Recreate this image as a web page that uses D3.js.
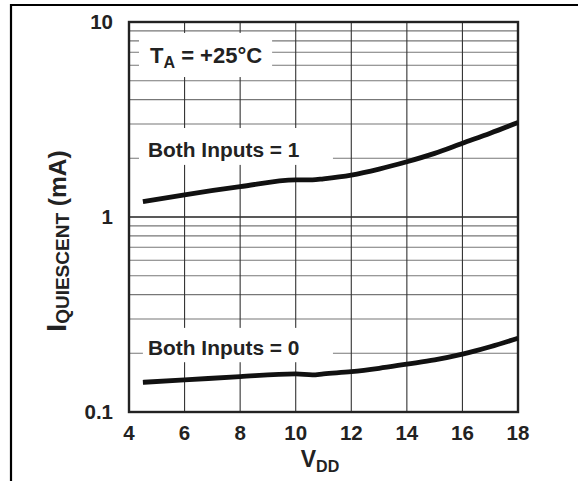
<!DOCTYPE html>
<html><head><meta charset="utf-8">
<script src="https://cdn.jsdelivr.net/npm/d3@7"></script>
<style>
html,body{margin:0;padding:0;background:#fff;}
svg{display:block;font-family:"Liberation Sans",Arial,Helvetica,sans-serif;font-weight:bold;}
</style></head>
<body><svg id="c" width="578" height="481"></svg>
<script>
const vdd = [4.5, 6, 8, 10, 10.6, 11, 12, 13, 14, 15, 16, 17, 18];
const iBoth1 = [1.198, 1.30, 1.43, 1.55, 1.55, 1.57, 1.64, 1.76, 1.92, 2.12, 2.39, 2.69, 3.05];
const iBoth0 = [0.142, 0.146, 0.152, 0.1567, 0.155, 0.157, 0.161, 0.1675, 0.176, 0.185, 0.198, 0.216, 0.239];
const xTicks = [4, 6, 8, 10, 12, 14, 16, 18];
const yTickLabels = ["0.1", "1", "10"];
const yTickValues = [0.1, 1, 10];

const svg = d3.select("#c");
const L = 129, R = 518, T = 22, B = 412;
const x = d3.scaleLinear().domain([4, 18]).range([L, R]);
const y = d3.scaleLog().domain([0.1, 10]).range([B, T]);

// outer border
svg.append("line").attr("x1", 10).attr("x2", 578).attr("y1", 5).attr("y2", 5).attr("stroke", "#000").attr("stroke-width", 2.2);
svg.append("line").attr("x1", 11).attr("x2", 11).attr("y1", 4).attr("y2", 481).attr("stroke", "#000").attr("stroke-width", 2.2);

// grid
const minor = [];
[0.1, 1].forEach(d => { for (let k = 2; k <= 9; k++) minor.push(d * k); });
svg.append("g").selectAll("line").data(minor).join("line")
  .attr("x1", L).attr("x2", R).attr("y1", d => y(d)).attr("y2", d => y(d))
  .attr("stroke", "#777").attr("stroke-width", 1.1);
svg.append("line").attr("x1", L).attr("x2", R).attr("y1", y(1)).attr("y2", y(1)).attr("stroke", "#222").attr("stroke-width", 1.6);
svg.append("g").selectAll("line").data(xTicks.slice(1, -1)).join("line")
  .attr("x1", d => x(d)).attr("x2", d => x(d)).attr("y1", T).attr("y2", B)
  .attr("stroke", "#333").attr("stroke-width", 1.1);

// frame
svg.append("rect").attr("x", L).attr("y", T).attr("width", R - L).attr("height", B - T)
  .attr("fill", "none").attr("stroke", "#222").attr("stroke-width", 2.4);

// label boxes
function box(x0, x1, y0, y1) {
  svg.append("rect").attr("x", x(x0)).attr("y", y(y0)).attr("width", x(x1) - x(x0)).attr("height", y(y1) - y(y0)).attr("fill", "#fff");
}
box(4.36, 9.15, 8.79, 5.22);   // T_A
box(4.36, 11.34, 2.86, 1.85);  // Both = 1
box(4.5, 11.34, 0.27, 0.18);   // Both = 0

const lbl = svg.append("g").attr("fill", "#222");
const ta = lbl.append("text").attr("x", 150).attr("y", 63).attr("font-size", 22);
ta.append("tspan").text("T");
ta.append("tspan").attr("font-size", 16).attr("dy", 5).text("A");
ta.append("tspan").attr("dy", -5).text(" = +25°C");
lbl.append("text").attr("x", 148).attr("y", 157).attr("font-size", 20.9).text("Both Inputs = 1");
lbl.append("text").attr("x", 148).attr("y", 355).attr("font-size", 20.9).text("Both Inputs = 0");

// curves
const line = d3.line().x(d => x(d[0])).y(d => y(d[1])).curve(d3.curveMonotoneX);
[iBoth1, iBoth0].forEach(s => {
  svg.append("path").attr("d", line(vdd.map((v, i) => [v, s[i]])))
    .attr("fill", "none").attr("stroke", "#111").attr("stroke-width", 4.8).attr("stroke-linecap", "butt");
});

// tick labels
const tl = svg.append("g").attr("fill", "#222").attr("font-size", 20.5);
tl.selectAll(".xt").data(xTicks).join("text").attr("class", "xt")
  .attr("x", d => x(d)).attr("y", 440).attr("text-anchor", "middle").text(d => d);
tl.selectAll(".yt").data(yTickValues).join("text").attr("class", "yt")
  .attr("x", 113).attr("y", d => y(d) + 7).attr("text-anchor", "end").text((d, i) => yTickLabels[i]);

// axis titles
const xt = svg.append("text").attr("x", 320).attr("y", 467).attr("text-anchor", "middle").attr("fill", "#222").attr("font-size", 23);
xt.append("tspan").text("V");
xt.append("tspan").attr("font-size", 16).attr("dy", 5).text("DD");

const yt = svg.append("text").attr("transform", "translate(66,241) rotate(-90)").attr("text-anchor", "middle").attr("fill", "#222").attr("font-size", 24.5);
yt.append("tspan").attr("font-size", 28).text("I");
yt.append("tspan").attr("font-size", 19).attr("dy", 3).text("QUIESCENT");
yt.append("tspan").attr("dy", -3).text(" (mA)");
</script></body></html>
